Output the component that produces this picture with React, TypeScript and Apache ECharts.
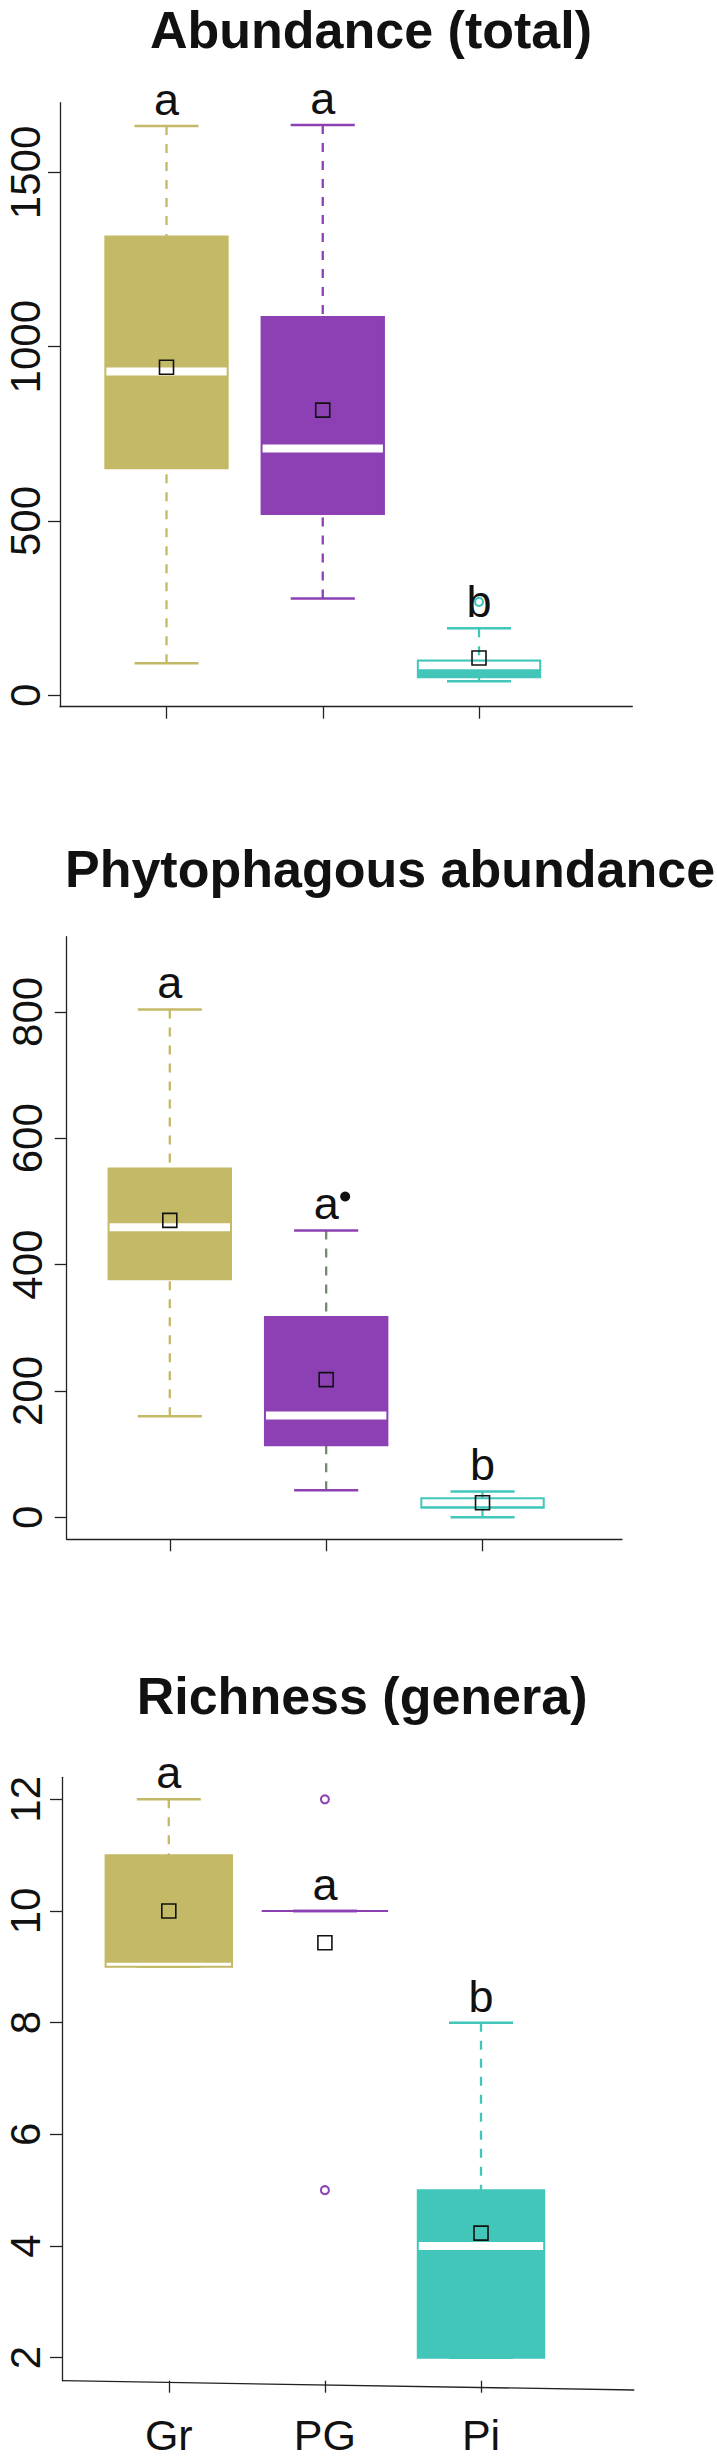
import React, { useEffect, useRef } from "react";
import * as echarts from "echarts";

// ---------- data ----------
const categories = ["Gr", "PG", "Pi"];

// Panel 1: Abundance (total)
const abundMin = [92, 278, 40];
const abundQ1 = [651, 520, 52];
const abundMedian = [929, 708, 86];
const abundQ3 = [1316, 1085, 100];
const abundMax = [1633, 1636, 192];
const abundMean = [941, 818, 107];
const abundOutliers: number[][] = [[], [], [268]];
const abundLetters = ["a", "a", "b"];
const abundTicks = [0, 500, 1000, 1500];

// Panel 2: Phytophagous abundance
const phytoMin = [160, 43, 0];
const phytoQ1 = [377, 114, 15];
const phytoMedian = [459, 161, 24];
const phytoQ3 = [552, 317, 30];
const phytoMax = [804, 454, 41];
const phytoMean = [470, 218, 23];
const phytoOutliers: number[][] = [[], [], []];
const phytoLetters = ["a", "a•", "b"];
const phytoTicks = [0, 200, 400, 600, 800];

// Panel 3: Richness (genera)
const richMin = [9, 10, 2];
const richQ1 = [9, 10, 2];
const richMedian = [9, 10, 4];
const richQ3 = [11, 10, 5];
const richMax = [12, 10, 8];
const richMean = [10, 9.43, 4.23];
const richOutliers: number[][] = [[], [12, 5], []];
const richLetters = ["a", "a", "b"];
const richTicks = [2, 4, 6, 8, 10, 12];

// ---------- styles / layout ----------
const palette = ["#C4B966", "#8C40B4", "#41C6B9"];
const FONT = '"Liberation Sans", Arial, Helvetica, sans-serif';
const INK = "#111111";

type Panel = {
  title: string;
  titleX: number;
  titleY: number;
  grid: { left: number; top: number; width: number; height: number };
  xMin: number;
  xMax: number;
  yMin: number;
  yMax: number;
  ticks: number[];
  labelMargin: number;
  boxW: number;
  capW: number;
  mins: number[];
  q1: number[];
  med: number[];
  q3: number[];
  maxs: number[];
  means: number[];
  outliers: number[][];
  letters: string[];
  whiskerColors: string[];
  showXLabels: boolean;
  showXLine: boolean;
};

const panels: Panel[] = [
  {
    title: "Abundance (total)",
    titleX: 150,
    titleY: 10,
    grid: { left: 60, top: 102.7, width: 572.3, height: 604 },
    xMin: 0.3184,
    xMax: 3.981,
    yMin: -32.7,
    yMax: 1700,
    ticks: abundTicks,
    labelMargin: 18,
    boxW: 0.783,
    capW: 0.41,
    mins: abundMin,
    q1: abundQ1,
    med: abundMedian,
    q3: abundQ3,
    maxs: abundMax,
    means: abundMean,
    outliers: abundOutliers,
    letters: abundLetters,
    whiskerColors: palette,
    showXLabels: false,
    showXLine: true,
  },
  {
    title: "Phytophagous abundance",
    titleX: 65,
    titleY: 849,
    grid: { left: 66.7, top: 936.7, width: 555.3, height: 602.6 },
    xMin: 0.3406,
    xMax: 3.892,
    yMin: -34.8,
    yMax: 919.1,
    ticks: phytoTicks,
    labelMargin: 22.5,
    boxW: 0.783,
    capW: 0.41,
    mins: phytoMin,
    q1: phytoQ1,
    med: phytoMedian,
    q3: phytoQ3,
    maxs: phytoMax,
    means: phytoMean,
    outliers: phytoOutliers,
    letters: phytoLetters,
    whiskerColors: [palette[0], "#6F8B6F", palette[2]],
    showXLabels: false,
    showXLine: true,
  },
  {
    title: "Richness (genera)",
    titleX: 136.7,
    titleY: 1676.3,
    grid: { left: 62, top: 1777.3, width: 572.3, height: 603.4 },
    xMin: 0.3158,
    xMax: 3.982,
    yMin: 1.588,
    yMax: 12.394,
    ticks: richTicks,
    labelMargin: 20,
    boxW: 0.81,
    capW: 0.41,
    mins: richMin,
    q1: richQ1,
    med: richMedian,
    q3: richQ3,
    maxs: richMax,
    means: richMean,
    outliers: richOutliers,
    letters: richLetters,
    whiskerColors: palette,
    showXLabels: true,
    showXLine: false,
  },
];

const LETTER_SIZE = 45;

function makeRender(p: Panel) {
  return (params: any, api: any) => {
    const i = params.dataIndex;
    const xv = api.value(0);
    const cx = api.coord([xv, 0])[0];
    const py = (v: number) => api.coord([xv, v])[1];
    const halfBox = api.size([p.boxW, 0])[0] / 2;
    const halfCap = api.size([p.capW, 0])[0] / 2;
    const col = palette[i];
    const wcol = p.whiskerColors[i];
    const yMin = py(api.value(1));
    const yQ1 = py(api.value(2));
    const yMed = py(api.value(3));
    const yQ3 = py(api.value(4));
    const yMax = py(api.value(5));
    const yMean = py(api.value(6));
    const children: any[] = [];
    const dash = { lineWidth: 2.3, lineDash: [9, 9] };
    if (yMax < yQ3 - 0.5) {
      children.push({
        type: "line",
        shape: { x1: cx, y1: yMax, x2: cx, y2: yQ3 },
        style: { stroke: wcol, ...dash },
      });
    }
    if (yMin > yQ1 + 0.5) {
      children.push({
        type: "line",
        shape: { x1: cx, y1: yMin, x2: cx, y2: yQ1 },
        style: { stroke: wcol, ...dash },
      });
    }
    [yMax, yMin].forEach((yy) => {
      children.push({
        type: "line",
        shape: { x1: cx - halfCap, y1: yy, x2: cx + halfCap, y2: yy },
        style: { stroke: col, lineWidth: 2.5 },
      });
    });
    // box fill
    children.push({
      type: "rect",
      shape: { x: cx - halfBox, y: yQ3, width: 2 * halfBox, height: yQ1 - yQ3 },
      style: { fill: col },
    });
    // white median band, clipped to box
    const mTop = Math.max(yMed - 4, yQ3);
    const mBot = Math.min(yMed + 4, yQ1);
    if (mBot > mTop) {
      children.push({
        type: "rect",
        shape: { x: cx - halfBox, y: mTop, width: 2 * halfBox, height: mBot - mTop },
        style: { fill: "#ffffff" },
      });
    }
    // box outline
    children.push({
      type: "rect",
      shape: { x: cx - halfBox, y: yQ3, width: 2 * halfBox, height: yQ1 - yQ3 },
      style: { fill: "none", stroke: col, lineWidth: 2 },
    });
    // outliers
    p.outliers[i].forEach((v) => {
      children.push({
        type: "circle",
        shape: { cx, cy: py(v), r: 4 },
        style: { fill: "none", stroke: col, lineWidth: 2 },
      });
    });
    // mean square
    children.push({
      type: "rect",
      shape: { x: cx - 7, y: yMean - 7, width: 14, height: 14 },
      style: { fill: "none", stroke: INK, lineWidth: 1.6 },
    });
    // letter
    const letter = p.letters[i];
    const hasDot = letter.indexOf("•") >= 0;
    const base = yMax - 11;
    children.push({
      type: "text",
      style: {
        text: letter.replace("•", ""),
        x: cx,
        y: base - 0.3465 * LETTER_SIZE,
        align: "center",
        verticalAlign: "middle",
        textAlign: "center",
        textVerticalAlign: "middle",
        font: `${LETTER_SIZE}px ${FONT}`,
        fill: INK,
      },
    });
    if (hasDot) {
      children.push({
        type: "circle",
        shape: { cx: cx + 19, cy: base - 23, r: 5 },
        style: { fill: INK },
      });
    }
    return { type: "group", children };
  };
}

export default function App() {
  const ref = useRef<HTMLDivElement>(null);
  useEffect(() => {
    if (!ref.current) return;
    const chart = echarts.init(ref.current, null, { renderer: "svg" });
    const axisLineStyle = { color: "#222222", width: 1.3 };
    const option: any = {
      animation: false,
      backgroundColor: "#ffffff",
      grid: panels.map((p) => ({
        ...p.grid,
        containLabel: false,
        outerBoundsMode: "none",
      })),
      xAxis: panels.map((p, k) => ({
        gridIndex: k,
        type: "value",
        min: p.xMin,
        max: p.xMax,
        axisLine: { show: p.showXLine, onZero: false, lineStyle: axisLineStyle },
        axisTick: {
          show: true,
          customValues: [1, 2, 3],
          length: 12,
          lineStyle: axisLineStyle,
        },
        axisLabel: {
          show: p.showXLabels,
          customValues: [1, 2, 3],
          formatter: (v: number) => categories[Math.round(v) - 1] || "",
          fontSize: 43,
          lineHeight: 34,
          fontFamily: FONT,
          color: INK,
          margin: 37,
        },
        splitLine: { show: false },
      })),
      yAxis: panels.map((p, k) => ({
        gridIndex: k,
        type: "value",
        min: p.yMin,
        max: p.yMax,
        axisLine: { show: true, onZero: false, lineStyle: axisLineStyle },
        axisTick: {
          show: true,
          customValues: p.ticks,
          length: 12,
          lineStyle: axisLineStyle,
        },
        axisLabel: {
          customValues: p.ticks,
          formatter: (v: number) => String(v),
          rotate: 90,
          fontSize: 42,
          lineHeight: 34,
          fontFamily: FONT,
          color: INK,
          margin: p.labelMargin,
        },
        splitLine: { show: false },
      })),
      series: panels.map((p, k) => ({
        type: "custom",
        xAxisIndex: k,
        yAxisIndex: k,
        clip: false,
        renderItem: makeRender(p),
        encode: { x: 0, y: [1, 2, 3, 4, 5, 6] },
        data: categories.map((_, i) => [
          i + 1,
          p.mins[i],
          p.q1[i],
          p.med[i],
          p.q3[i],
          p.maxs[i],
          p.means[i],
        ]),
      })),
      graphic: [
        ...panels.map((p) => ({
          type: "text",
          x: p.titleX,
          y: p.titleY,
          style: {
            text: p.title,
            font: `bold 52px ${FONT}`,
            lineHeight: 40,
            fill: INK,
            align: "left",
            verticalAlign: "top",
          },
        })),
        {
          type: "line",
          shape: { x1: 62, y1: 2380.7, x2: 634.3, y2: 2390 },
          style: { stroke: "#222222", lineWidth: 1.3 },
        },
      ],
    };
    chart.setOption(option);
    return () => chart.dispose();
  }, []);
  return (
    <div
      ref={ref}
      style={{ position: "absolute", left: 0, top: 0, width: 717, height: 2459 }}
    />
  );
}
